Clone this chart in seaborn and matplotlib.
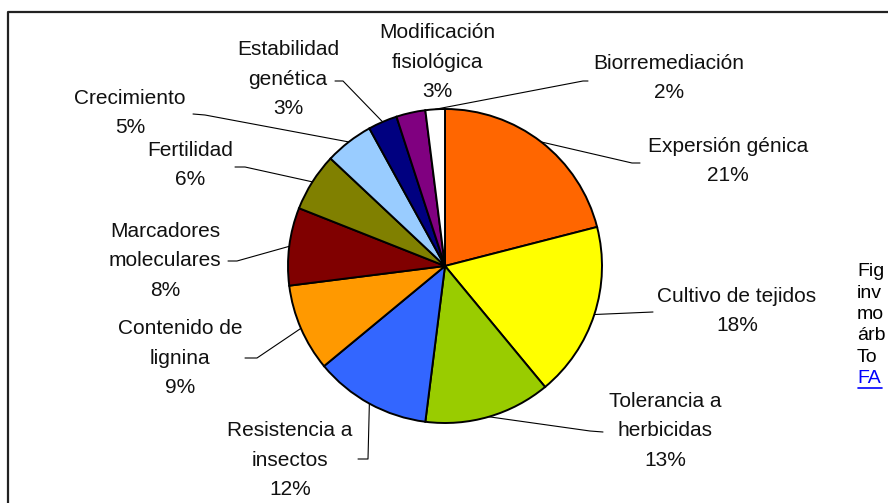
import matplotlib
matplotlib.use("Agg")
import matplotlib.pyplot as plt
import seaborn as sns
import numpy as np

# Data
categories = ["Expersión génica", "Cultivo de tejidos", "Tolerancia a\nherbicidas",
              "Resistencia a\ninsectos", "Contenido de\nlignina", "Marcadores\nmoleculares",
              "Fertilidad", "Crecimiento", "Estabilidad\ngenética",
              "Modificación\nfisiológica", "Biorremediación"]
percent = [21, 18, 13, 12, 9, 8, 6, 5, 3, 3, 2]
colors = ["#FF6600", "#FFFF00", "#99CC00", "#3366FF", "#FF9900", "#800000",
          "#808000", "#99CCFF", "#000080", "#800080", "#FFFFFF"]
side_text = ["Fig", "inv", "mo", "árb", "To", "FA"]

# Layout (pixel coordinates, y from top)
W, H = 888, 503
cx, cy, r = 445, 266, 157
label_pos = [(728, 161), (737, 311), (665, 431), (290, 460), (180, 358), (165, 261),
             (190, 165), (130, 113), (288, 79), (437, 62), (669, 78)]
leaders = [[(632, 163), (640, 163)], [(653, 312)], [(590, 431), (603, 432)],
           [(368, 459), (358, 459)], [(257, 358), (245, 358)], [(237, 261), (228, 261)],
           [(245, 167), (235, 167)], [(205, 115), (193, 114)], [(343, 81), (335, 81)],
           [], [(583, 81), (588, 81)]]

sns.set_theme(style="white")
plt.rcParams["font.family"] = ["Liberation Sans", "DejaVu Sans"]

fig = plt.figure(figsize=(W / 100, H / 100), dpi=100)
ax = fig.add_axes([0, 0, 1, 1])

wedges, _ = ax.pie(percent, colors=sns.color_palette(colors), center=(cx, H - cy),
                   radius=r, startangle=90, counterclock=False,
                   wedgeprops=dict(edgecolor="black", linewidth=1.4))

for w, name, pct, (lx, ly), pts in zip(wedges, categories, percent, label_pos, leaders):
    ax.text(lx, H - ly, f"{name}\n{pct}%", ha="center", va="center",
            multialignment="center", fontsize=15, linespacing=1.73, color="#111111")
    if pts:
        ang = np.deg2rad((w.theta1 + w.theta2) / 2)
        xs = [cx + r * np.cos(ang)] + [p[0] for p in pts]
        ys = [H - cy + r * np.sin(ang)] + [H - p[1] for p in pts]
        ax.plot(xs, ys, color="black", lw=0.8, zorder=0.5)

# cut-off caption on the right
baselines = [276, 297.5, 319, 340.5, 362, 383]
for t, b in zip(side_text, baselines):
    ax.text(857, H - b, t, ha="left", va="baseline", fontsize=14,
            color="#0000FF" if t == "FA" else "black")
ax.plot([858, 882], [H - 388, H - 388], color="#0000FF", lw=1.2)

# chart border (continues past the crop)
ax.plot([8, 8, 888], [0, H - 12, H - 12], color="#222222", lw=1.6)

ax.set_xlim(0, W)
ax.set_ylim(0, H)
ax.set_aspect("equal")
ax.axis("off")

fig.savefig("out.png", dpi=100, facecolor="white")
